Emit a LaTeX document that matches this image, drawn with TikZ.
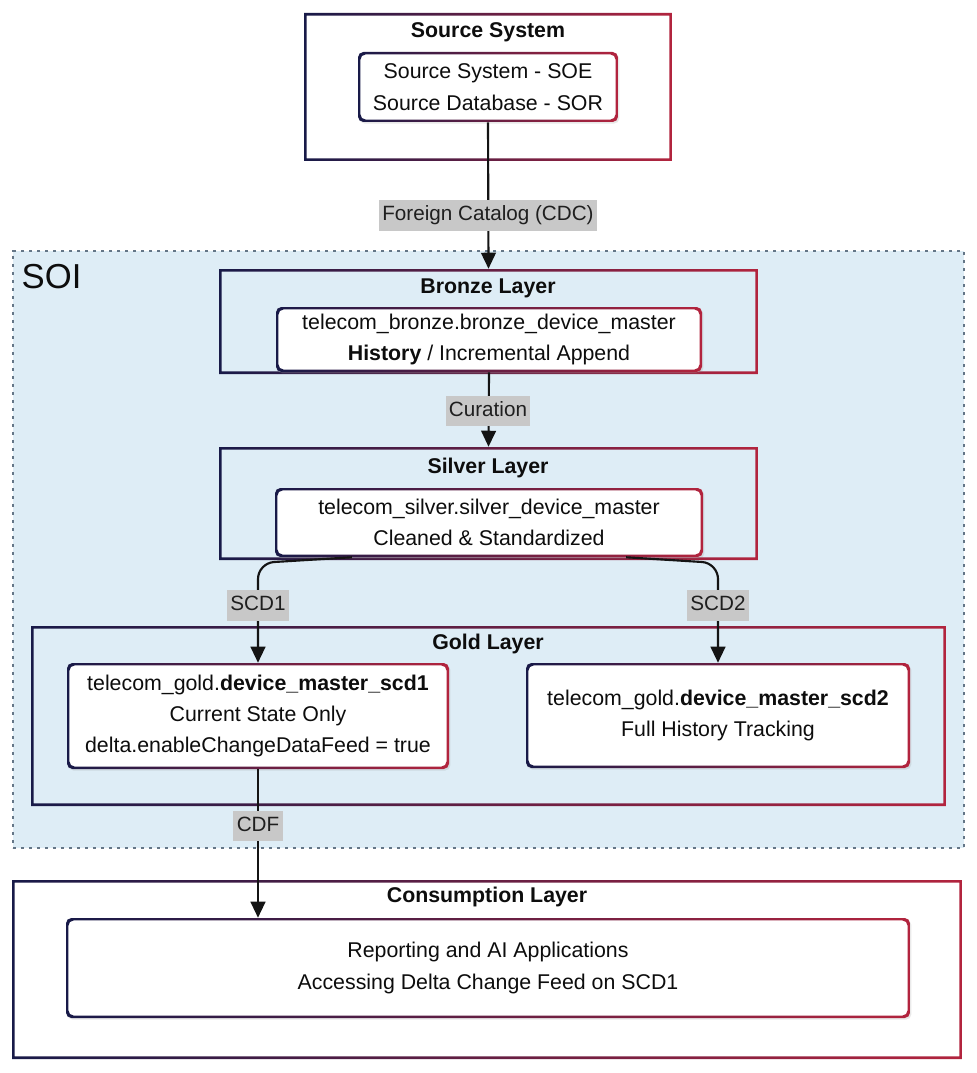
\documentclass[tikz,border=0pt]{standalone}
\usepackage{fontspec}
\setmainfont{Liberation Sans}
\usetikzlibrary{arrows.meta,calc,shadows}
\definecolor{bnavy}{RGB}{24,26,72}
\definecolor{bred}{RGB}{178,36,62}
\definecolor{soibg}{RGB}{222,237,246}
\definecolor{soiline}{RGB}{100,118,135}
\definecolor{lblgray}{RGB}{200,200,200}
\newdimen\pxu \pxu=0.75pt
\tikzset{
  gframe/.style={path picture={\shade[even odd rule,left color=bnavy,right color=bred]
     (path picture bounding box.south west) rectangle (path picture bounding box.north east)
     ([shift={(#1,#1)}]path picture bounding box.south west) rectangle ([shift={(-#1,-#1)}]path picture bounding box.north east);}},
}
\begin{document}
\begin{tikzpicture}[x=0.75pt,y=-0.75pt,
  body/.style={font=\fontsize{16}{23.5}\selectfont, align=center, text=black!95},
  ttl/.style={font=\bfseries\fontsize{16}{19}\selectfont, text=black!95},
  outerbox/.style={rectangle, inner sep=0pt, gframe=2pt},
  innerbox/.style={rectangle, rounded corners=4pt, fill=white, inner sep=0pt, gframe=1.8pt, body,
     drop shadow={opacity=0.18, shadow xshift=1pt, shadow yshift=-1.2pt}},
  lbl/.style={fill=lblgray, font=\fontsize{15.5}{18}\selectfont, text=black!88, inner xsep=2.5pt, inner ysep=4pt, text height=11.5pt, text depth=3.5pt},
  arr/.style={line width=1.6pt, draw=black!92, -{Triangle[width=11pt,length=12pt]}}]
\useasboundingbox (0,0) rectangle (976,1073);
\fill[white] (0,0) rectangle (976,1073);
% SOI region
\node[rectangle, draw=soiline, fill=soibg, line width=1.8pt, dash pattern=on 2.5pt off 3.5pt,
      minimum width=951*\pxu, minimum height=597*\pxu, inner sep=0pt] (soi) at (488.5,549.5) {};
\node[anchor=west, font=\fontsize{26}{30}\selectfont, text=black!95] (soilbl) at (17,277) {SOI};
% Source system
\node[outerbox, fill=white, minimum width=368*\pxu, minimum height=148*\pxu] (src) at (488,87) {};
\node[ttl] (srct) at (488,32.5) {Source System};
\node[innerbox, minimum width=260*\pxu, minimum height=70*\pxu] (srcin) at (488,87)
  {Source System - SOE\\Source Database - SOR};
% Bronze
\node[outerbox, minimum width=539*\pxu, minimum height=105*\pxu] (bronze) at (488.5,321.5) {};
\node[ttl] (bronzet) at (488,288) {Bronze Layer};
\node[innerbox, minimum width=426*\pxu, minimum height=65*\pxu] (bronzein) at (489,339.5)
  {telecom\_bronze.bronze\_device\_master\\\textbf{History} / Incremental Append};
% Silver
\node[outerbox, minimum width=539*\pxu, minimum height=113*\pxu] (silver) at (488.5,503.5) {};
\node[ttl] (silvert) at (488,467.5) {Silver Layer};
\node[innerbox, minimum width=428*\pxu, minimum height=69*\pxu] (silverin) at (489,522.5)
  {telecom\_silver.silver\_device\_master\\Cleaned \& Standardized};
% Gold
\node[outerbox, minimum width=915*\pxu, minimum height=180*\pxu] (gold) at (488.5,716) {};
\node[ttl] (goldt) at (488,644) {Gold Layer};
\node[innerbox, minimum width=382*\pxu, minimum height=106*\pxu] (scd1) at (258,716)
  {telecom\_gold.\textbf{device\_master\_scd1}\\Current State Only\\delta.enableChangeDataFeed = true};
\node[innerbox, minimum width=384*\pxu, minimum height=105*\pxu] (scd2) at (718,715.5)
  {telecom\_gold.\textbf{device\_master\_scd2}\\Full History Tracking};
% Consumption
\node[outerbox, fill=white, minimum width=950*\pxu, minimum height=179*\pxu] (cons) at (487,969.5) {};
\node[ttl] (const) at (487,897) {Consumption Layer};
\node[innerbox, minimum width=844*\pxu, minimum height=100*\pxu] (consin) at (488,968)
  {Reporting and AI Applications\\Accessing Delta Change Feed on SCD1};
% Connectors
\draw[arr] (srcin.south) -- (bronze.north);
\draw[arr] (bronzein.south) -- (silver.north);
\coordinate (c1) at (258,563);
\coordinate (c2) at (718,563);
\draw[arr, rounded corners=12pt] ($(silverin.south west)!0.18!(silverin.south east)$) -- (c1) -- (scd1.north);
\draw[arr, rounded corners=12pt] ($(silverin.south west)!0.82!(silverin.south east)$) -- (c2) -- (scd2.north);
\draw[arr] (scd1.south) -- (scd1.south |- consin.north);
% Labels
\node[lbl] (l1) at (488,215.5) {Foreign Catalog (CDC)};
\node[lbl] (l2) at (488,411) {Curation};
\node[lbl] (l3) at (258,605.5) {SCD1};
\node[lbl] (l4) at (718,605.5) {SCD2};
\node[lbl] (l5) at (258,826) {CDF};
\end{tikzpicture}
\end{document}
